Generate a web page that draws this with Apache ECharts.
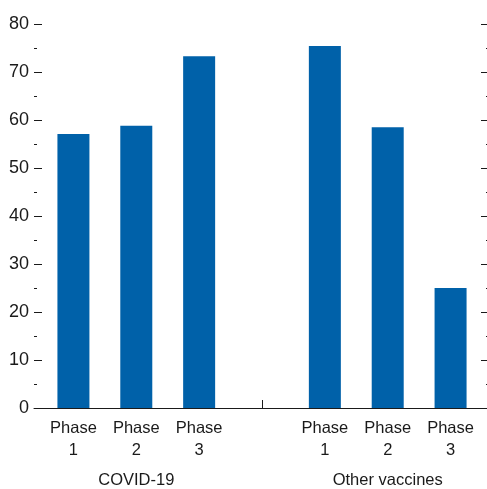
<!DOCTYPE html>
<html>
<head>
<meta charset="utf-8">
<script src="https://cdn.jsdelivr.net/npm/echarts@6/dist/echarts.min.js"></script>
<style>html,body{margin:0;padding:0;background:#fff;}#c{width:487px;height:489px;}</style>
</head>
<body>
<div id="c"></div>
<script>
var categories = ['Phase\n1', 'Phase\n2', 'Phase\n3', '', 'Phase\n1', 'Phase\n2', 'Phase\n3'];
var groupLabels = ['', 'COVID-19', '', '', '', 'Other vaccines', ''];
var values = [57.1, 58.8, 73.3, null, 75.4, 58.5, 25.0];
var yTicks = [0, 10, 20, 30, 40, 50, 60, 70, 80];

var FONT = '"Liberation Sans", Arial, sans-serif';
var INK = '#1a1a1a';
var chart = echarts.init(document.getElementById('c'), null, {renderer: 'canvas'});
var yBase = {
  type: 'value', min: yTicks[0], max: yTicks[yTicks.length - 1], interval: 10,
  splitLine: {show: false},
  axisLine: {show: false}
};
chart.setOption({
  animation: false,
  backgroundColor: '#fff',
  grid: [
    {left: 34, right: -2, top: 24, bottom: 81, containLabel: false, outerBoundsMode: 'none'},
    {left: 42, right: 5, top: 24, bottom: 81, containLabel: false, outerBoundsMode: 'none'}
  ],
  xAxis: [
    {gridIndex: 0, type: 'value', min: 0, max: 1,
     axisLine: {show: true, lineStyle: {color: INK, width: 1}},
     axisTick: {show: false}, axisLabel: {show: false}, splitLine: {show: false}},
    {gridIndex: 1, type: 'category', data: categories, boundaryGap: true,
     axisLine: {show: false},
     axisTick: {show: true, inside: true, length: 8, alignWithLabel: true,
                interval: function (i) { return i === 3; },
                lineStyle: {color: INK, width: 1}},
     axisLabel: {interval: 0, fontFamily: FONT, fontSize: 16.5, lineHeight: 22, color: INK, margin: 9}},
    {gridIndex: 1, type: 'category', data: groupLabels, position: 'bottom',
     axisLine: {show: false}, axisTick: {show: false},
     axisLabel: {interval: 0, fontFamily: FONT, fontSize: 16.5, lineHeight: 22, color: INK, margin: 61}}
  ],
  yAxis: [
    Object.assign({}, yBase, {gridIndex: 0, position: 'left',
      axisTick: {show: true, inside: true, length: 8, lineStyle: {color: INK}},
      minorTick: {show: true, splitNumber: 2, length: 3, lineStyle: {color: INK}},
      axisLabel: {fontFamily: FONT, fontSize: 18, color: INK, margin: 5}}),
    Object.assign({}, yBase, {gridIndex: 0, position: 'right',
      axisTick: {show: true, inside: true, length: 8, lineStyle: {color: INK}},
      minorTick: {show: true, splitNumber: 2, length: 3, lineStyle: {color: INK}},
      axisLabel: {show: false}}),
    Object.assign({}, yBase, {gridIndex: 1, show: false})
  ],
  series: [{
    type: 'bar', xAxisIndex: 1, yAxisIndex: 2,
    data: values, barWidth: 32,
    itemStyle: {color: '#0061a9'}
  }]
});
</script>
</body>
</html>
